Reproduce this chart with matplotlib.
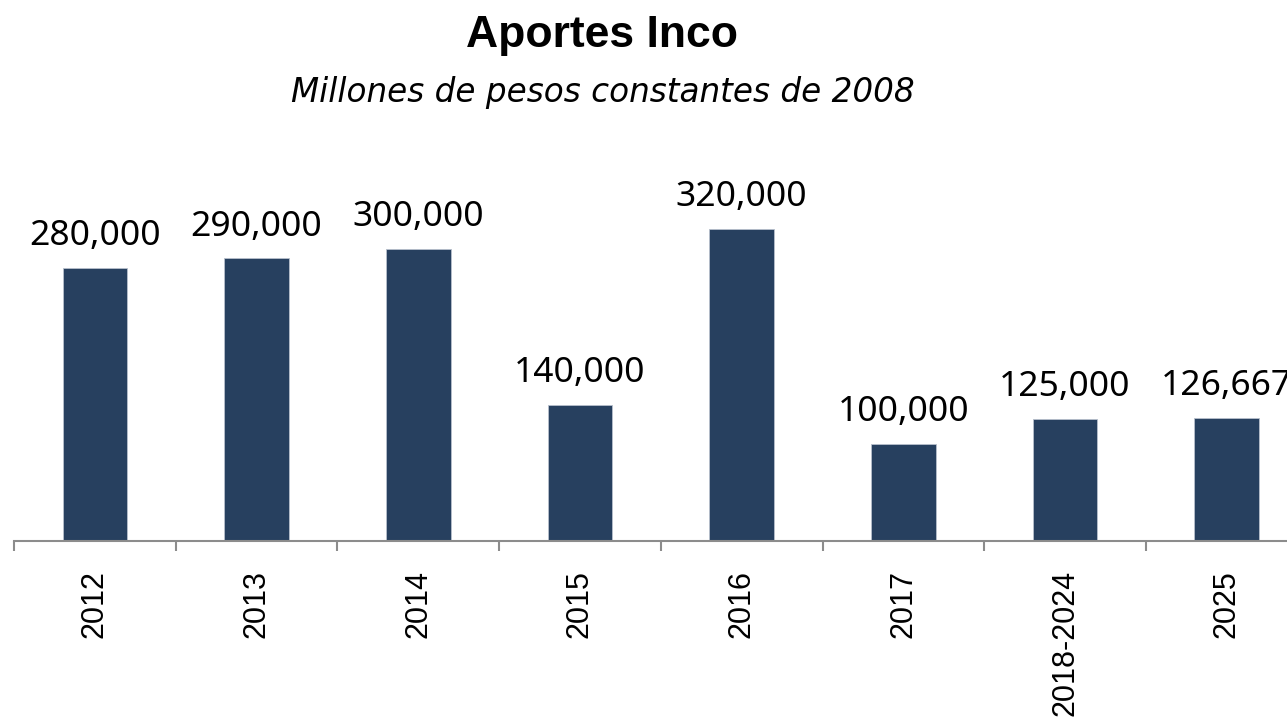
import matplotlib
matplotlib.use('Agg')
import matplotlib.pyplot as plt

# datos
categorias = ['2012', '2013', '2014', '2015', '2016', '2017', '2018-2024', '2025']
aportes = [280000, 290000, 300000, 140000, 320000, 100000, 125000, 126667]

fig = plt.figure(figsize=(12.87, 7.17), dpi=100)
# the plot runs past the right edge, like the original
ax = fig.add_axes([14/1287, 176/717, 1293.6/1287, 341/717])

x = range(len(categorias))
ax.bar(x, aportes, width=0.40, color='#27405F', edgecolor='#b8c0cc', linewidth=0.6)

for xi, v in zip(x, aportes):
    ax.annotate(f'{v:,}', (xi, v), xytext=(0, 16.5), textcoords='offset points',
                ha='center', va='baseline', fontsize=25.5, family='Noto Sans')

ax.set_xlim(-0.5, len(categorias) - 0.5)
ax.set_ylim(0, 350000)

for s in ['top', 'right', 'left']:
    ax.spines[s].set_visible(False)
ax.spines['bottom'].set_color('#8c8c8c')
ax.spines['bottom'].set_linewidth(1.5)
ax.set_yticks([])

# ticks between categories, labels at centres
ax.set_xticks([i - 0.5 for i in range(len(categorias) + 1)])
ax.set_xticklabels([])
ax.tick_params(axis='x', which='major', length=7.2, width=1.5, color='#8c8c8c')
ax.set_xticks(list(x), minor=True)
ax.set_xticklabels(categorias, minor=True, rotation=90, fontsize=22,
                   family='Liberation Sans', va='top')
ax.tick_params(axis='x', which='minor', length=0, pad=21)

fig.text(0.468, 1 - 47/717, 'Aportes Inco', ha='center', va='baseline',
         fontsize=32, fontweight='bold', family='Liberation Sans')
fig.text(0.468, 1 - 102/717, 'Millones de pesos constantes de 2008', ha='center',
         va='baseline', fontsize=23.5, style='italic', family='DejaVu Sans')

fig.savefig('out.png', dpi=100)
